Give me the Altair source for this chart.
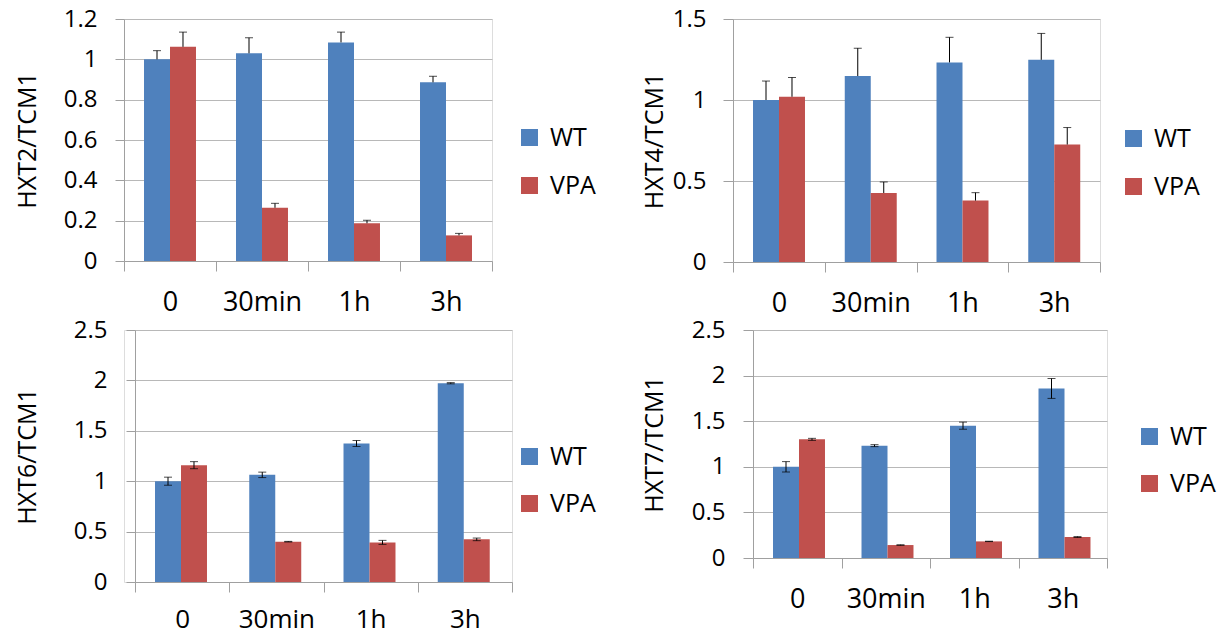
import altair as alt
import pandas as pd

times = ["0", "30min", "1h", "3h"]
groups = ["WT", "VPA"]
colors = ["#4F81BD", "#C0504D"]

# HXT2/TCM1
hxt2_wt = [1.00, 1.03, 1.084, 0.886]
hxt2_vpa = [1.062, 0.264, 0.187, 0.127]
hxt2_wt_err = [0.043, 0.077, 0.051, 0.030]
hxt2_vpa_err = [0.073, 0.022, 0.015, 0.010]

# HXT4/TCM1
hxt4_wt = [1.00, 1.148, 1.232, 1.248]
hxt4_vpa = [1.02, 0.426, 0.379, 0.725]
hxt4_wt_err = [0.117, 0.172, 0.155, 0.163]
hxt4_vpa_err = [0.119, 0.068, 0.049, 0.105]

# HXT6/TCM1
hxt6_wt = [1.00, 1.063, 1.374, 1.972]
hxt6_vpa = [1.159, 0.400, 0.393, 0.423]
hxt6_wt_err = [0.040, 0.027, 0.030, 0.006]
hxt6_vpa_err = [0.035, 0.003, 0.020, 0.013]

# HXT7/TCM1
hxt7_wt = [1.00, 1.232, 1.451, 1.859]
hxt7_vpa = [1.301, 0.142, 0.182, 0.230]
hxt7_wt_err = [0.057, 0.011, 0.039, 0.109]
hxt7_vpa_err = [0.011, 0.003, 0.002, 0.005]

ticks_top_left = [0, 0.2, 0.4, 0.6, 0.8, 1.0, 1.2]
ticks_top_right = [0, 0.5, 1.0, 1.5]
ticks_bottom = [0, 0.5, 1.0, 1.5, 2.0, 2.5]

FONT = "Open Sans"
WEIGHT = 500
GRID = "#b8b8b8"
DOMAIN = "#a0a0a0"


def panel(title, wt, vpa, wt_err, vpa_err, ticks, w, h, two_sided,
          tick_size, label_pad, title_pad, leg_x, leg_y, row_pad,
          x_label_pad=18, x_label_size=27, shift=0):
    vals = wt + vpa
    errs = wt_err + vpa_err
    df = pd.DataFrame({
        "time": times * 2,
        "group": ["WT"] * 4 + ["VPA"] * 4,
        "value": vals,
        "hi": [v + e for v, e in zip(vals, errs)],
        "lo": [v - e if two_sided else v for v, e in zip(vals, errs)],
    })
    xscale = alt.Scale(paddingInner=0, paddingOuter=0)
    if shift:
        xscale = alt.Scale(paddingInner=0, paddingOuter=0, range=[shift, w + shift])
    x = alt.X("time:N", sort=times, scale=xscale,
              axis=alt.Axis(title=None, labelAngle=0, tickBand="extent",
                            domainColor=DOMAIN, tickColor=DOMAIN, tickSize=10,
                            labelPadding=x_label_pad, labelFontSize=x_label_size,
                            labelFontWeight=WEIGHT,
                            labelColor="black", labelFont=FONT, grid=False))
    xo = alt.XOffset("group:N", sort=groups,
                     scale=alt.Scale(paddingInner=0, paddingOuter=0.77))
    yaxis_kw = dict(title=title, values=ticks, format="~g",
                    grid=True, gridColor=GRID, domainColor=DOMAIN,
                    tickColor=DOMAIN, tickSize=tick_size,
                    labelPadding=label_pad, labelFontSize=24,
                    labelFontWeight=WEIGHT,
                    labelColor="black", labelFont=FONT,
                    titleFontSize=25, titleFontWeight=WEIGHT,
                    titleColor="black", titleFont=FONT,
                    titlePadding=title_pad)
    if shift:
        yaxis_kw["offset"] = -shift
    y = alt.Y("value:Q",
              scale=alt.Scale(domain=[ticks[0], ticks[-1]], nice=False),
              axis=alt.Axis(**yaxis_kw))
    bars = alt.Chart(df).mark_bar().encode(
        x=x, xOffset=xo, y=y,
        color=alt.Color("group:N", sort=groups,
                        scale=alt.Scale(domain=groups, range=colors),
                        legend=alt.Legend(orient="none", legendX=leg_x + shift, legendY=leg_y,
                                          title=None, symbolType="square",
                                          symbolSize=289, symbolStrokeWidth=0,
                                          labelFontSize=25, labelFont=FONT,
                                          labelFontWeight=WEIGHT,
                                          labelColor="black", labelOffset=8,
                                          rowPadding=row_pad, padding=0)),
    )
    rules = alt.Chart(df).mark_rule(color="black", strokeWidth=1).encode(
        x=x, xOffset=xo, y="lo:Q", y2="hi:Q")
    caps_hi = alt.Chart(df).mark_tick(color="black", thickness=1, size=8).encode(
        x=x, xOffset=xo, y="hi:Q")
    layers = [bars, rules, caps_hi]
    if two_sided:
        caps_lo = alt.Chart(df).mark_tick(color="black", thickness=1, size=8).encode(
            x=x, xOffset=xo, y="lo:Q")
        layers.append(caps_lo)
    return alt.layer(*layers).properties(width=w + shift, height=h)


p1 = panel("HXT2/TCM1", hxt2_wt, hxt2_vpa, hxt2_wt_err, hxt2_vpa_err,
           ticks_top_left, 368, 242, False, 9, 18, 23, 393, 106, 22)
p2 = panel("HXT4/TCM1", hxt4_wt, hxt4_vpa, hxt4_wt_err, hxt4_vpa_err,
           ticks_top_right, 367, 243, False, 10, 17, 5, 388, 107, 22)
p3 = panel("HXT6/TCM1", hxt6_wt, hxt6_vpa, hxt6_wt_err, hxt6_vpa_err,
           ticks_bottom, 377, 252, True, 9, 19, 33, 382, 114, 21,
           x_label_pad=14, x_label_size=26, shift=11)
p4 = panel("HXT7/TCM1", hxt7_wt, hxt7_vpa, hxt7_wt_err, hxt7_vpa_err,
           ticks_bottom, 354, 228, True, 10, 18, 24, 384, 94, 21)

top = alt.hconcat(p1, p2, spacing=44).resolve_scale(
    color="independent", x="independent", y="independent")
bottom = alt.hconcat(p3, p4, spacing=44).resolve_scale(
    color="independent", x="independent", y="independent")

chart = alt.vconcat(top, bottom, spacing=0).resolve_scale(
    color="independent", x="independent", y="independent"
).properties(
    padding={"left": 14, "top": 6, "right": 0, "bottom": 2},
    background="white",
).configure_view(stroke=None).configure(font=FONT)

chart.save("out.html", embed_options={"renderer": "svg", "actions": False})
